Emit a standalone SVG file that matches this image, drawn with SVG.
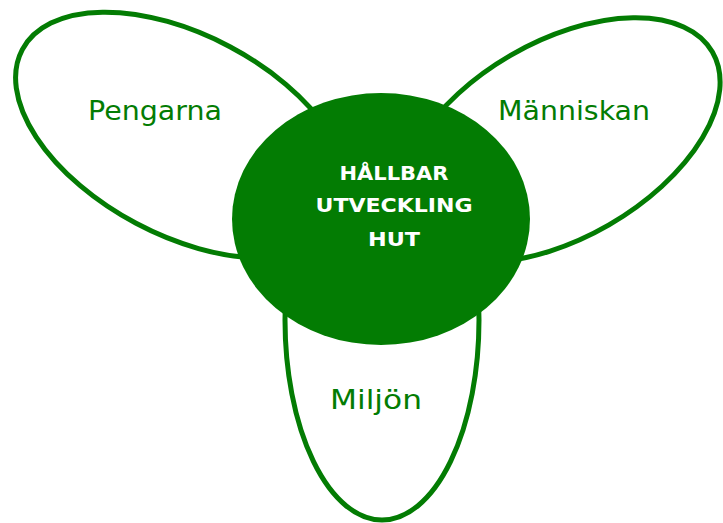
<svg xmlns="http://www.w3.org/2000/svg" width="723" height="523" viewBox="0 0 723 523">
<style>
.petal{fill:#ffffff;stroke:#037c03;stroke-width:5}
.core{fill:#037c03}
.lbl{font-family:"DejaVu Sans","Open Sans",sans-serif;font-size:26px;fill:#037c03}
.ctr{font-family:"DejaVu Sans","Open Sans",sans-serif;font-size:20px;font-weight:bold;fill:#ffffff;text-anchor:middle}
</style>
<rect width="723" height="523" fill="#ffffff"/>
<g id="pengarna">
<ellipse class="petal" cx="183" cy="135" rx="182" ry="100" transform="rotate(28 183 135)"/>
<text class="lbl" x="88" y="120" textLength="134" lengthAdjust="spacingAndGlyphs">Pengarna</text>
</g>
<g id="manniskan">
<ellipse class="petal" cx="560" cy="140" rx="176" ry="98" transform="rotate(-30 560 140)"/>
<text class="lbl" x="498" y="120" textLength="152" lengthAdjust="spacingAndGlyphs">Människan</text>
</g>
<g id="miljon">
<ellipse class="petal" cx="382" cy="320" rx="97" ry="200"/>
<text class="lbl" x="330" y="409" textLength="92" lengthAdjust="spacingAndGlyphs">Miljön</text>
</g>
<g id="hallbar">
<ellipse class="core" cx="381" cy="219" rx="149" ry="126"/>
<text class="ctr" x="394" y="180" textLength="109" lengthAdjust="spacingAndGlyphs">HÅLLBAR</text>
<text class="ctr" x="394" y="212" textLength="157" lengthAdjust="spacingAndGlyphs">UTVECKLING</text>
<text class="ctr" x="394" y="246" textLength="52" lengthAdjust="spacingAndGlyphs">HUT</text>
</g>
</svg>
